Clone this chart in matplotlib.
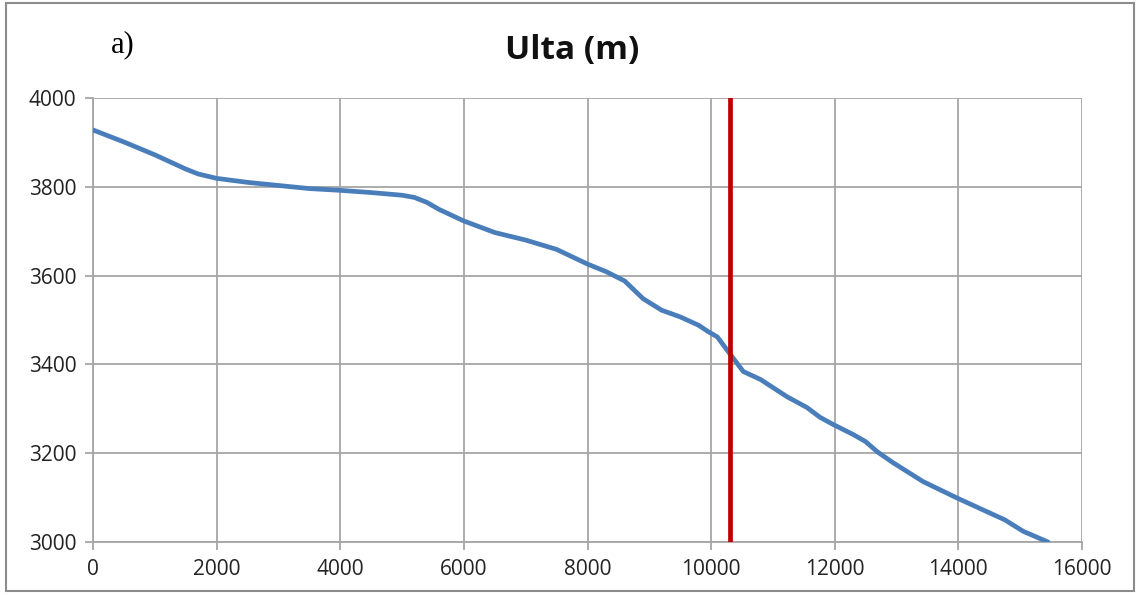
import matplotlib
matplotlib.use("Agg")
import matplotlib.pyplot as plt
from matplotlib.patches import Rectangle

distance = [0, 500, 1000, 1500, 1700, 2000, 2500, 3000, 3500, 4000, 4500, 5000, 5200, 5400,
            5600, 6000, 6500, 7000, 7500, 8000, 8300, 8600, 8900, 9200, 9500, 9800, 9950,
            10100, 10260, 10520, 10800, 11230, 11550, 11760, 11970, 12300, 12500, 12690,
            12950, 13430, 13980, 14560, 14750, 15050, 15450]
elevation = [3928, 3901, 3872, 3840, 3829, 3819, 3810, 3803, 3796, 3792, 3787, 3781, 3776, 3765,
             3749, 3723, 3697, 3680, 3659, 3626, 3609, 3588, 3548, 3522, 3507, 3488, 3474,
             3462, 3432, 3384, 3366, 3327, 3303, 3281, 3265, 3242, 3226, 3203,
             3178, 3136, 3099, 3062, 3050, 3024, 3000]
marker_x = 10300

xticks = [0, 2000, 4000, 6000, 8000, 10000, 12000, 14000, 16000]
yticks = [3000, 3200, 3400, 3600, 3800, 4000]

fig = plt.figure(figsize=(11.38, 5.95), dpi=100)
ax = fig.add_axes([93/1138, 1-542/595, (1082-93)/1138, (542-98)/595])

ax.plot(distance, elevation, color="#4a7ebb", lw=3.4, solid_capstyle="round",
        solid_joinstyle="round", zorder=3)
ax.axvline(marker_x, color="#c00000", lw=3.4, zorder=4)

ax.set_xlim(0, 16000)
ax.set_ylim(3000, 4000)
ax.set_xticks(xticks)
ax.set_yticks(yticks)
ax.grid(True, color="#a6a6a6", lw=1.3)
ax.set_axisbelow(True)
for s in ["top", "right"]:
    ax.spines[s].set_visible(False)
for s in ["left", "bottom"]:
    ax.spines[s].set_color("#a6a6a6")
    ax.spines[s].set_linewidth(1.3)
ax.tick_params(axis="both", direction="out", length=6, width=1.3, color="#a6a6a6",
               labelsize=15, labelcolor="#222222", pad=6)
for lab in ax.get_xticklabels() + ax.get_yticklabels():
    lab.set_fontfamily("Open Sans")

fig.text(572/1138, 1-50/595, "Ulta (m)", ha="center", va="center",
         fontsize=24, fontweight="bold", family="Open Sans", color="#111111")
fig.text(111/1138, 1-45/595, "a)", ha="left", va="center",
         fontsize=22, family="Liberation Serif", color="black")

fig.patches.append(Rectangle((6/1138, 4/595), 1128/1138, 588/595, transform=fig.transFigure,
                             fill=False, edgecolor="#8c8c8c", lw=1.5))

fig.savefig("out.png", dpi=100)
